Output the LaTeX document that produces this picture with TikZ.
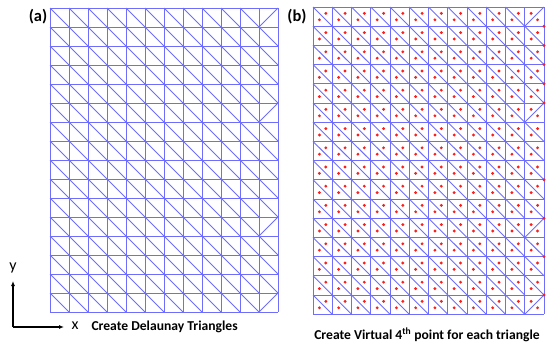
\documentclass[tikz,border=0pt]{standalone}
\usepackage{fontspec}
\setmainfont{Carlito}
\usepackage{tikz}
\usetikzlibrary{arrows.meta,positioning}
\definecolor{meshblue}{RGB}{110,110,250}
\definecolor{ptred}{RGB}{250,30,30}

% 12 x 16 cells, unit = one cell
\newcommand{\delmesh}{%
  \foreach \c in {0,...,12} \draw[mesh] (\c,0) -- (\c,16);
  \foreach \r in {0,...,16} \draw[mesh] (0,\r) -- (12,\r);
  \foreach \c in {0,...,10}
    \foreach \r in {0,...,15}
      \draw[mesh] (\c,\r) -- ++(1,1);
  \foreach \r in {1,2,3,4,6,7,8,9,10,12,13,14}
    \draw[mesh] (11,\r) -- ++(1,1);
  \foreach \r in {0,5,11,15}
    \draw[mesh] (12,\r) -- ++(-1,1);
}

\begin{document}
\begin{tikzpicture}[x=1pt, y=-1pt, >=Latex]
  \tikzset{mesh/.style={draw=meshblue, line width=0.9pt},
    vpt/.style={fill=ptred},
    panel/.style={font=\bfseries\fontsize{16.5}{18}\selectfont},
    caption/.style={font=\bfseries\fontsize{13.6}{15}\selectfont},
    axis/.style={line width=1.3pt, -{Latex[length=5pt,width=4pt]}}}
  \useasboundingbox (0,0) rectangle (550,346);

  % (a) triangulation
  \begin{scope}[shift={(50,8)}, x=19pt, y=-19pt]
    \delmesh
  \end{scope}
  \node[panel] (lbla) at (38,17) {(a)};

  % (b) triangulation with virtual points
  \begin{scope}[shift={(313,7)}, x=19.25pt, y=-19.2pt]
    \delmesh
    \foreach \c in {0,...,10}
      \foreach \r in {0,...,15} {
        \fill[vpt] (\c+2/3,\r+1/3) circle[radius=1.6pt];
        \fill[vpt] (\c+1/3,\r+2/3) circle[radius=1.6pt];
      }
    \foreach \r in {1,2,3,4,6,7,8,9,10,12,13,14} {
      \fill[vpt] (11+2/3,\r+1/3) circle[radius=1.6pt];
      \fill[vpt] (11+1/3,\r+2/3) circle[radius=1.6pt];
    }
    \foreach \r in {0,5,11,15} {
      \fill[vpt] (11+1/3,\r+1/3) circle[radius=1.6pt];
      \fill[vpt] (11+2/3,\r+2/3) circle[radius=1.6pt];
    }
    \foreach \r in {1,2,3,4,5,9,11,13,15}
      \fill[vpt] (12,\r) circle[radius=1.6pt];
  \end{scope}
  \node[panel] (lblb) at (297,17) {(b)};

  % axes
  \coordinate (orig) at (13,327);
  \coordinate (ytip) at (13,281);
  \coordinate (xtip) at (64,327);
  \draw[axis] (orig) -- (ytip);
  \draw[axis] (orig) -- (xtip);
  \node[font=\fontsize{16}{18}\selectfont] (ylbl) at (13,268) {y};
  \node[font=\fontsize{16}{18}\selectfont] (xlbl) at (75,326) {x};

  \node[caption, anchor=west] (capa) at (88,327) {Create Delaunay Triangles};
  \node[caption] (capb) at (427,335) {Create Virtual 4\textsuperscript{th} point for each triangle};
\end{tikzpicture}
\end{document}
